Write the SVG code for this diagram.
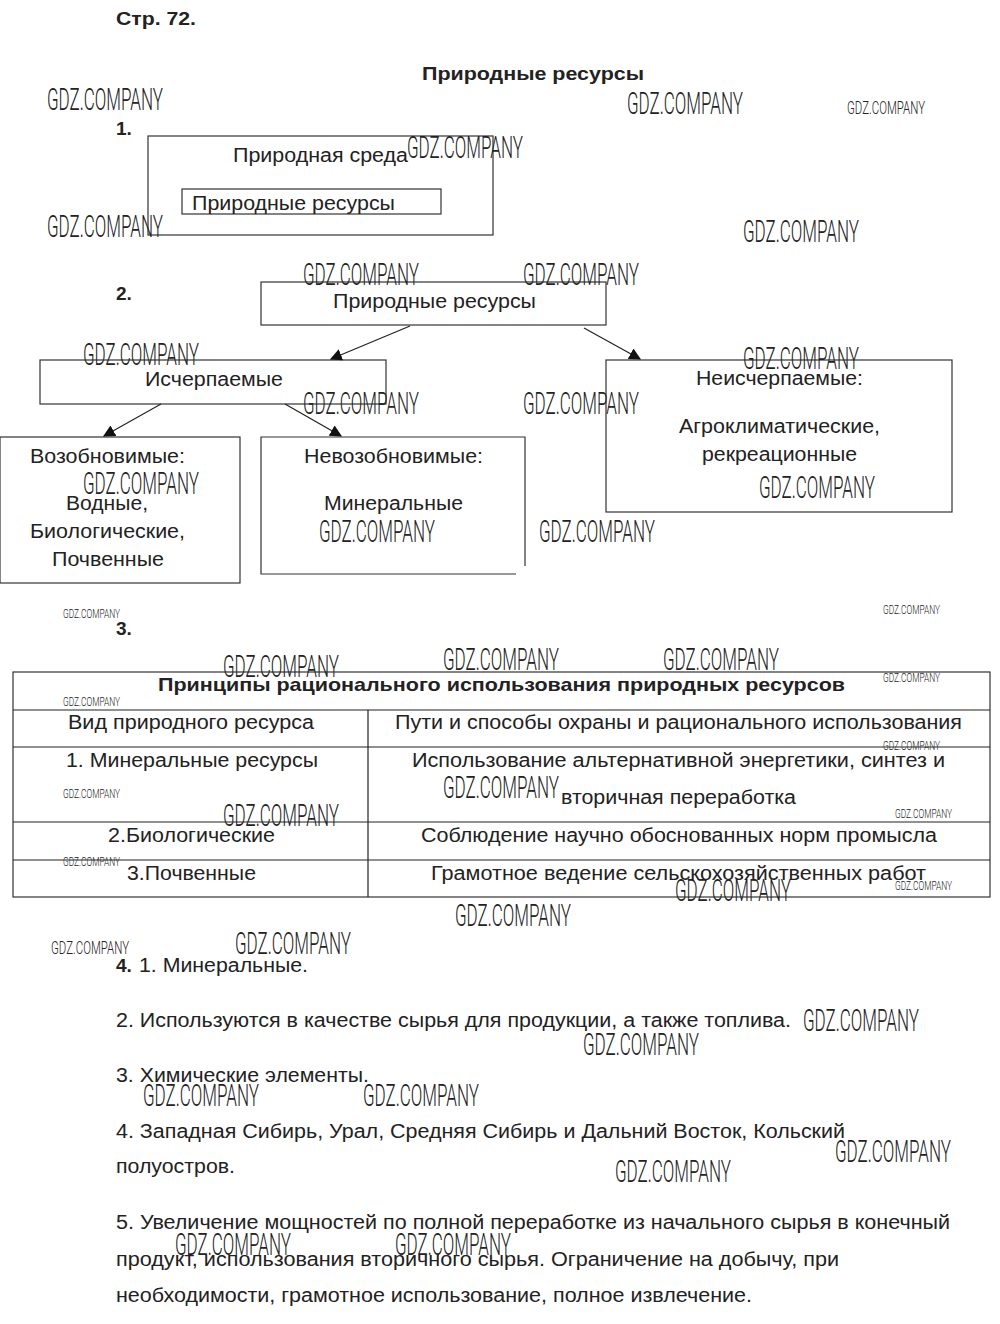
<svg xmlns="http://www.w3.org/2000/svg" width="1000" height="1324" viewBox="0 0 1000 1324">
<style>
.t{font-family:"Liberation Sans",Arial,sans-serif;font-size:20px;fill:#222}
.b{font-family:"Liberation Sans",Arial,sans-serif;font-size:19px;font-weight:bold;fill:#222}
.w{font-family:Roboto,"Liberation Sans",sans-serif;font-weight:300;font-size:31px;fill:#222}
.ws{font-family:Roboto,"Liberation Sans",sans-serif;font-weight:300;font-size:18px;fill:#222}
.wt{font-family:Roboto,"Liberation Sans",sans-serif;font-weight:300;font-size:13px;fill:#222}
.box{fill:none;stroke:#333;stroke-width:1.2}
.ln{stroke:#222;stroke-width:1.2;fill:none}
</style>
<defs>
<marker id="ah" viewBox="0 0 10 10" refX="9" refY="5" markerWidth="12" markerHeight="12" markerUnits="userSpaceOnUse" orient="auto">
<path d="M0,0 L10,5 L0,10 Z" fill="#111"/>
</marker>
</defs>
<rect width="1000" height="1324" fill="#fff"/>

<g id="headings">
<text class="b" x="116" y="25" textLength="80" lengthAdjust="spacingAndGlyphs">Стр. 72.</text>
<text class="b" x="422" y="80" textLength="222" lengthAdjust="spacingAndGlyphs">Природные ресурсы</text>
<text class="b" x="116" y="135">1.</text>
<text class="b" x="116" y="300">2.</text>
<text class="b" x="116" y="635">3.</text>
</g>

<g id="node-env">
<rect class="box" x="148" y="136" width="345" height="99"/>
<text class="t" x="233" y="162" textLength="175" lengthAdjust="spacingAndGlyphs">Природная среда</text>
</g>
<g id="node-res1">
<rect class="box" x="182" y="189" width="259" height="25"/>
<text class="t" x="192" y="210" textLength="203" lengthAdjust="spacingAndGlyphs">Природные ресурсы</text>
</g>

<g id="node-res2">
<rect class="box" x="261" y="282" width="345" height="43"/>
<text class="t" x="333" y="308" textLength="203" lengthAdjust="spacingAndGlyphs">Природные ресурсы</text>
</g>
<g id="node-exh">
<rect class="box" x="40" y="360" width="346" height="44"/>
<text class="t" x="145" y="386" textLength="138" lengthAdjust="spacingAndGlyphs">Исчерпаемые</text>
</g>
<g id="node-inexh">
<rect class="box" x="606" y="360" width="346" height="152"/>
<text class="t" x="696" y="385" textLength="167" lengthAdjust="spacingAndGlyphs">Неисчерпаемые:</text>
<text class="t" x="679" y="433" textLength="201" lengthAdjust="spacingAndGlyphs">Агроклиматические,</text>
<text class="t" x="702" y="461" textLength="155" lengthAdjust="spacingAndGlyphs">рекреационные</text>
</g>
<g id="node-renew">
<rect class="box" x="0" y="437" width="240" height="146"/>
<text class="t" x="30" y="463" textLength="155" lengthAdjust="spacingAndGlyphs">Возобновимые:</text>
<text class="t" x="66" y="510" textLength="82" lengthAdjust="spacingAndGlyphs">Водные,</text>
<text class="t" x="30" y="538" textLength="155" lengthAdjust="spacingAndGlyphs">Биологические,</text>
<text class="t" x="52" y="566" textLength="112" lengthAdjust="spacingAndGlyphs">Почвенные</text>
</g>
<g id="node-nonrenew">
<path class="box" d="M516,574 H261 V437 H525 V566"/>
<text class="t" x="304" y="463" textLength="179" lengthAdjust="spacingAndGlyphs">Невозобновимые:</text>
<text class="t" x="324" y="510" textLength="139" lengthAdjust="spacingAndGlyphs">Минеральные</text>
</g>

<g id="connectors">
<line class="ln" x1="410" y1="326" x2="331" y2="359" marker-end="url(#ah)"/>
<line class="ln" x1="584" y1="328" x2="640" y2="359" marker-end="url(#ah)"/>
<line class="ln" x1="161" y1="404" x2="104" y2="436" marker-end="url(#ah)"/>
<line class="ln" x1="285" y1="404" x2="341" y2="436" marker-end="url(#ah)"/>
</g>

<g id="table">
<rect class="box" x="13" y="672" width="977" height="225"/>
<line class="ln" x1="13" y1="710" x2="990" y2="710"/>
<line class="ln" x1="13" y1="747" x2="990" y2="747"/>
<line class="ln" x1="13" y1="822" x2="990" y2="822"/>
<line class="ln" x1="13" y1="860" x2="990" y2="860"/>
<line class="ln" x1="368" y1="710" x2="368" y2="897"/>
<text class="b" x="158" y="691" textLength="687" lengthAdjust="spacingAndGlyphs">Принципы рационального использования природных ресурсов</text>
<text class="t" x="68" y="729" textLength="246" lengthAdjust="spacingAndGlyphs">Вид природного ресурса</text>
<text class="t" x="395" y="729" textLength="567" lengthAdjust="spacingAndGlyphs">Пути и способы охраны и рационального использования</text>
<text class="t" x="66" y="767" textLength="252" lengthAdjust="spacingAndGlyphs">1. Минеральные ресурсы</text>
<text class="t" x="412" y="767" textLength="533" lengthAdjust="spacingAndGlyphs">Использование альтернативной энергетики, синтез и</text>
<text class="t" x="561" y="804" textLength="235" lengthAdjust="spacingAndGlyphs">вторичная переработка</text>
<text class="t" x="108" y="842" textLength="167" lengthAdjust="spacingAndGlyphs">2.Биологические</text>
<text class="t" x="421" y="842" textLength="516" lengthAdjust="spacingAndGlyphs">Соблюдение научно обоснованных норм промысла</text>
<text class="t" x="127" y="880" textLength="129" lengthAdjust="spacingAndGlyphs">3.Почвенные</text>
<text class="t" x="431" y="880" textLength="495" lengthAdjust="spacingAndGlyphs">Грамотное ведение сельскохозяйственных работ</text>
</g>

<g id="answers">
<text class="b" x="116" y="972">4.</text>
<text class="t" x="139" y="972" textLength="169" lengthAdjust="spacingAndGlyphs">1. Минеральные.</text>
<text class="t" x="116" y="1027" textLength="675" lengthAdjust="spacingAndGlyphs">2. Используются в качестве сырья для продукции, а также топлива.</text>
<text class="t" x="116" y="1082" textLength="253" lengthAdjust="spacingAndGlyphs">3. Химические элементы.</text>
<text class="t" x="116" y="1138" textLength="729" lengthAdjust="spacingAndGlyphs">4. Западная Сибирь, Урал, Средняя Сибирь и Дальний Восток, Кольский</text>
<text class="t" x="116" y="1173" textLength="119" lengthAdjust="spacingAndGlyphs">полуостров.</text>
<text class="t" x="116" y="1229" textLength="834" lengthAdjust="spacingAndGlyphs">5. Увеличение мощностей по полной переработке из начального сырья в конечный</text>
<text class="t" x="116" y="1266" textLength="723" lengthAdjust="spacingAndGlyphs">продукт, использования вторичного сырья. Ограничение на добычу, при</text>
<text class="t" x="116" y="1302" textLength="636" lengthAdjust="spacingAndGlyphs">необходимости, грамотное использование, полное извлечение.</text>
</g>

<g id="watermarks">
<text class="w" x="47" y="110" textLength="116" lengthAdjust="spacingAndGlyphs">GDZ.COMPANY</text>
<text class="w" x="627" y="114" textLength="116" lengthAdjust="spacingAndGlyphs">GDZ.COMPANY</text>
<text class="ws" x="847" y="114" textLength="78" lengthAdjust="spacingAndGlyphs">GDZ.COMPANY</text>
<text class="w" x="407" y="158" textLength="116" lengthAdjust="spacingAndGlyphs">GDZ.COMPANY</text>
<text class="w" x="47" y="237" textLength="116" lengthAdjust="spacingAndGlyphs">GDZ.COMPANY</text>
<text class="w" x="743" y="242" textLength="116" lengthAdjust="spacingAndGlyphs">GDZ.COMPANY</text>
<text class="w" x="303" y="285" textLength="116" lengthAdjust="spacingAndGlyphs">GDZ.COMPANY</text>
<text class="w" x="523" y="285" textLength="116" lengthAdjust="spacingAndGlyphs">GDZ.COMPANY</text>
<text class="w" x="83" y="365" textLength="116" lengthAdjust="spacingAndGlyphs">GDZ.COMPANY</text>
<text class="w" x="743" y="369" textLength="116" lengthAdjust="spacingAndGlyphs">GDZ.COMPANY</text>
<text class="w" x="303" y="414" textLength="116" lengthAdjust="spacingAndGlyphs">GDZ.COMPANY</text>
<text class="w" x="523" y="414" textLength="116" lengthAdjust="spacingAndGlyphs">GDZ.COMPANY</text>
<text class="w" x="83" y="494" textLength="116" lengthAdjust="spacingAndGlyphs">GDZ.COMPANY</text>
<text class="w" x="759" y="498" textLength="116" lengthAdjust="spacingAndGlyphs">GDZ.COMPANY</text>
<text class="w" x="319" y="542" textLength="116" lengthAdjust="spacingAndGlyphs">GDZ.COMPANY</text>
<text class="w" x="539" y="542" textLength="116" lengthAdjust="spacingAndGlyphs">GDZ.COMPANY</text>
<text class="wt" x="63" y="618" textLength="57" lengthAdjust="spacingAndGlyphs">GDZ.COMPANY</text>
<text class="wt" x="883" y="614" textLength="57" lengthAdjust="spacingAndGlyphs">GDZ.COMPANY</text>
<text class="w" x="223" y="677" textLength="116" lengthAdjust="spacingAndGlyphs">GDZ.COMPANY</text>
<text class="w" x="443" y="670" textLength="116" lengthAdjust="spacingAndGlyphs">GDZ.COMPANY</text>
<text class="w" x="663" y="670" textLength="116" lengthAdjust="spacingAndGlyphs">GDZ.COMPANY</text>
<text class="wt" x="883" y="682" textLength="57" lengthAdjust="spacingAndGlyphs">GDZ.COMPANY</text>
<text class="wt" x="63" y="706" textLength="57" lengthAdjust="spacingAndGlyphs">GDZ.COMPANY</text>
<text class="wt" x="883" y="750" textLength="57" lengthAdjust="spacingAndGlyphs">GDZ.COMPANY</text>
<text class="wt" x="63" y="798" textLength="57" lengthAdjust="spacingAndGlyphs">GDZ.COMPANY</text>
<text class="w" x="223" y="826" textLength="116" lengthAdjust="spacingAndGlyphs">GDZ.COMPANY</text>
<text class="w" x="443" y="798" textLength="116" lengthAdjust="spacingAndGlyphs">GDZ.COMPANY</text>
<text class="wt" x="895" y="818" textLength="57" lengthAdjust="spacingAndGlyphs">GDZ.COMPANY</text>
<text class="wt" x="63" y="866" textLength="57" lengthAdjust="spacingAndGlyphs">GDZ.COMPANY</text>
<text class="w" x="675" y="901" textLength="116" lengthAdjust="spacingAndGlyphs">GDZ.COMPANY</text>
<text class="wt" x="895" y="890" textLength="57" lengthAdjust="spacingAndGlyphs">GDZ.COMPANY</text>
<text class="w" x="455" y="926" textLength="116" lengthAdjust="spacingAndGlyphs">GDZ.COMPANY</text>
<text class="ws" x="51" y="954" textLength="78" lengthAdjust="spacingAndGlyphs">GDZ.COMPANY</text>
<text class="w" x="235" y="954" textLength="116" lengthAdjust="spacingAndGlyphs">GDZ.COMPANY</text>
<text class="w" x="803" y="1031" textLength="116" lengthAdjust="spacingAndGlyphs">GDZ.COMPANY</text>
<text class="w" x="583" y="1055" textLength="116" lengthAdjust="spacingAndGlyphs">GDZ.COMPANY</text>
<text class="w" x="143" y="1106" textLength="116" lengthAdjust="spacingAndGlyphs">GDZ.COMPANY</text>
<text class="w" x="363" y="1106" textLength="116" lengthAdjust="spacingAndGlyphs">GDZ.COMPANY</text>
<text class="w" x="835" y="1162" textLength="116" lengthAdjust="spacingAndGlyphs">GDZ.COMPANY</text>
<text class="w" x="615" y="1182" textLength="116" lengthAdjust="spacingAndGlyphs">GDZ.COMPANY</text>
<text class="w" x="175" y="1255" textLength="116" lengthAdjust="spacingAndGlyphs">GDZ.COMPANY</text>
<text class="w" x="395" y="1255" textLength="116" lengthAdjust="spacingAndGlyphs">GDZ.COMPANY</text>
</g>
</svg>
